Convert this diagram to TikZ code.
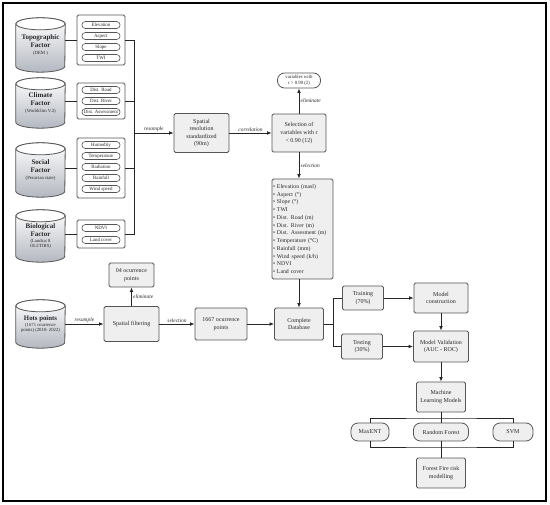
\documentclass[tikz,border=0pt]{standalone}
\usepackage{fontspec}
\setmainfont{Liberation Serif}
\usetikzlibrary{arrows.meta,backgrounds,calc}
\definecolor{boxfill}{HTML}{EFEFEF}
\definecolor{boxline}{HTML}{555555}
\definecolor{cylbot}{HTML}{B3B7C0}
\definecolor{txt}{HTML}{282828}
\tikzset{
  box/.style={draw=boxline, fill=boxfill, rounded corners=1.5pt, line width=0.8pt, align=center,
    font=\fontsize{6}{7.6}\selectfont, text=txt, inner sep=1pt},
  listbox/.style={draw=boxline, fill=white, rounded corners=1.5pt, line width=0.8pt, minimum width=48pt},
  pill/.style={draw=boxline, fill=white, rounded corners=3.3pt, line width=0.6pt, minimum width=38pt,
    minimum height=7pt, inner sep=0.6pt, font=\fontsize{4.9}{5}\selectfont, text=txt},
  stadium/.style={draw=boxline, fill=boxfill, rounded corners=7pt, line width=0.8pt, minimum height=18pt,
    align=center, font=\fontsize{6}{7}\selectfont, text=txt, inner sep=1pt},
  cylnode/.style={minimum width=49pt, inner sep=0pt, align=center, text=txt,
    font=\fontsize{7}{8.3}\selectfont\bfseries},
  cylbody/.style={draw=boxline, line width=0.8pt, top color=white, bottom color=cylbot},
  cyltop/.style={draw=boxline, line width=0.8pt, fill=white},
  conn/.style={line width=0.9pt, draw=black!85},
  arr/.style={conn, -{Latex[length=4.5pt,width=3.8pt]}},
  lab/.style={font=\fontsize{5.4}{6}\selectfont\itshape, inner sep=1.2pt, text=txt}
}
\newcommand{\subt}[1]{{\fontsize{4.7}{5.5}\selectfont\mdseries #1}}
\begin{document}
\begin{tikzpicture}[x=1pt,y=-1pt]
\useasboundingbox (0,0) rectangle (550,505);
\draw[line width=1.1pt] (3,3) rectangle (546,501);

% cylinders (text nodes)
\node[cylnode, minimum height=42pt] (topo) at (40.5,45) {Topographic\\Factor\\[-1.5pt]\subt{(DEM )}};
\node[cylnode, minimum height=38pt] (clim) at (40.5,103) {Climate\\Factor\\[-1.5pt]\subt{(Worldclim V.2)}};
\node[cylnode, minimum height=42pt] (soc) at (40.5,170) {Social\\Factor\\[-1.5pt]\subt{(Peruvian state)}};
\node[cylnode, minimum height=40pt] (bio) at (40.5,236) {Biological\\[-0.5pt]Factor\\[-2.2pt]\subt{(Landsat 8}\\[-2.8pt]\subt{OLI/TIRS)}};
\node[cylnode, minimum height=36pt, font=\fontsize{6.8}{7.5}\selectfont\bfseries] (hots) at (40.5,324) {Hots points\\[-1pt]\subt{(1671 ocurrence}\\[-2.5pt]\subt{points) (2010- 2022)}};

\begin{scope}[on background layer]
\foreach \n in {topo,clim,soc,bio,hots}{
  \path[cylbody] (\n.north west) -- (\n.south west)
     arc[start angle=180,end angle=360,x radius=24.5pt,y radius=6pt]
     -- (\n.north east)
     arc[start angle=0,end angle=180,x radius=24.5pt,y radius=6pt] -- cycle;
  \path[cyltop] (\n.north) ellipse[x radius=24.5pt,y radius=6pt];
}
\end{scope}

% list boxes
\node[listbox, minimum height=50pt] (tl) at (101,40) {};
\node[listbox, minimum height=36pt] (cl) at (101,101) {};
\node[listbox, minimum height=60pt] (sl) at (101,168) {};
\node[listbox, minimum height=28pt] (bl) at (101,234) {};

\node[pill] (p1) at (101,25) {Elevation};
\node[pill] (p2) at (101,36) {Aspect};
\node[pill] (p3) at (101,47) {Slope};
\node[pill] (p4) at (101,58) {TWI};
\node[pill] (p5) at (101,90) {Dist. Road};
\node[pill] (p6) at (101,101) {Dist. River};
\node[pill] (p7) at (101,112) {Dist. Assessment};
\node[pill] (p8) at (101,145) {Humedity};
\node[pill] (p9) at (101,156) {Temperature};
\node[pill] (p10) at (101,167) {Radiation};
\node[pill] (p11) at (101,178) {Rainfall};
\node[pill] (p12) at (101,189) {Wind speed};
\node[pill] (p13) at (101,228) {NDVI};
\node[pill] (p14) at (101,240) {Land cover};

% cylinder -> list
\draw[conn] (tl.west) -- (tl.west -| topo.east);
\draw[conn] (cl.west) -- (cl.west -| clim.east);
\draw[conn] (sl.west) -- (sl.west -| soc.east);
\draw[conn] (bl.west) -- (bl.west -| bio.east);

% main boxes
\node[box, minimum width=55pt, minimum height=39pt] (spres) at (201.5,133) {Spatial\\resolution\\standardized\\(90m)};
\node[box, minimum width=54pt, minimum height=38pt] (sel) at (299,133) {Selection of\\variables with r\\< 0.90 (12)};
\node[stadium, minimum width=43pt, minimum height=15pt, fill=white, font=\fontsize{4.8}{5.4}\selectfont] (elim) at (299,80.5) {variables with\\r > 0.90 (2)};
\node[box, align=left, minimum width=61pt, minimum height=100pt, text width=59pt,
  font=\fontsize{5.8}{7.75}\selectfont] (vars) at (302.5,229)
 {\textbullet{} Elevation (masl)\\ \textbullet{} Aspect (°)\\ \textbullet{} Slope (°)\\ \textbullet{} TWI\\
  \textbullet{} Dist. Road (m)\\ \textbullet{} Dist. River (m)\\ \textbullet{} Dist. Assesment (m)\\
  \textbullet{} Temperature (°C)\\ \textbullet{} Rainfall (mm)\\ \textbullet{} Wind speed (k/h)\\
  \textbullet{} NDVI\\ \textbullet{} Land cover};
\node[box, minimum width=49pt, minimum height=32pt] (db) at (299,324) {Complete\\Database};
\node[box, minimum width=41pt, minimum height=24pt] (train) at (363,298) {Training\\(70\%)};
\node[box, minimum width=41pt, minimum height=25pt] (test) at (362,346.5) {Testing\\(30\%)};
\node[box, minimum width=54pt, minimum height=30pt] (mc) at (441,298) {Model\\construction};
\node[box, minimum width=55pt, minimum height=31pt] (val) at (441,346.5) {Model Validation\\(AUC - ROC)};
\node[box, minimum width=49pt, minimum height=30pt] (ml) at (441,397) {Machine\\Learning Models};
\node[stadium, minimum width=38pt] (maxent) at (370,432) {MaxENT};
\node[stadium, minimum width=55pt] (rf) at (441,432) {Random Forest};
\node[stadium, minimum width=40pt] (svm) at (513,432) {SVM};
\node[box, minimum width=49pt, minimum height=30pt] (ff) at (441,473) {Forest Fire risk\\modelling};

\node[box, minimum width=55pt, minimum height=35pt] (sf) at (131.5,324) {Spatial filtering};
\node[box, minimum width=45pt, minimum height=24pt] (o4) at (131.5,275) {04 ocurrence\\points};
\node[box, minimum width=52pt, minimum height=32pt] (p1667) at (221,324) {1667 ocurrence\\points};

% bracket
\coordinate (bx) at (134,133);
\draw[conn] (tl.east) -| (bx);
\draw[conn] (cl.east) -| (bx);
\draw[conn] (sl.east) -| (bx);
\draw[conn] (bl.east) -| (bx);
\draw[arr] (bx) -- (bx -| spres.west) node[lab, midway, above] {resample};
\draw[arr] (spres.east) -- (sel.west) node[lab, midway, above] {correlation};
\draw[arr] (sel.north) -- (elim.south) node[lab, midway, right] {eliminate};
\draw[arr] (sel.south) -- (sel.south |- vars.north) node[lab, midway, right] {selection};
\draw[arr] (db.north |- vars.south) -- (db.north);

% database split
\coordinate (j) at (333,324);
\draw[conn] (db.east) -- (j);
\draw[conn] (j) |- (train.west);
\draw[conn] (j) |- (test.west);
\draw[arr] (train.east) -- (train.east -| mc.west);
\draw[arr] (test.east) -- (test.east -| val.west);
\draw[arr] (mc.south) -- (val.north);
\draw[arr] (val.south) -- (ml.north);

% ML bus
\coordinate (bt) at (441,418);
\coordinate (bb) at (441,447);
\draw[conn] (ml.south) -- (rf.north);
\draw[conn] (maxent.north) |- (bt) -| (svm.north);
\draw[conn] (maxent.south) |- (bb) -| (svm.south);
\draw[conn] (rf.south) -- (ff.north);

% bottom-left flow
\draw[arr] (hots.east) -- (hots.east -| sf.west) node[lab, midway, above] {resample};
\draw[arr] (sf.north) -- (o4.south) node[lab, midway, right] {eliminate};
\draw[arr] (sf.east) -- (p1667.west) node[lab, midway, above] {selection};
\draw[arr] (p1667.east) -- (db.west);
\end{tikzpicture}
\end{document}
